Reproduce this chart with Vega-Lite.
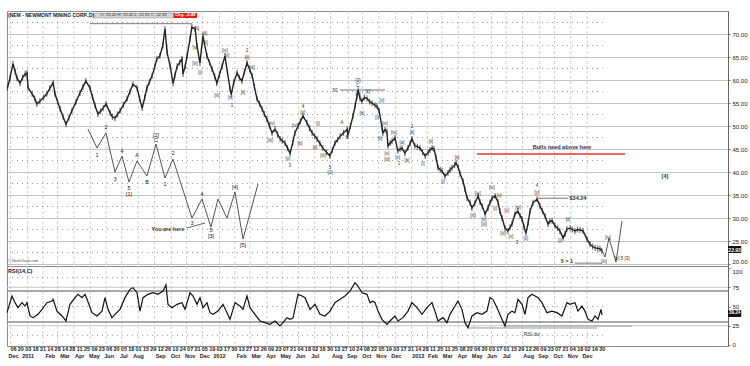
{
"$schema": "https://vega.github.io/schema/vega-lite/v6.json",
"padding": {"left": 4, "top": 10, "right": 0, "bottom": 0},
"background": "white",
"spacing": 0,
"bounds": "flush",
"config": {"view": {"stroke": "#8a8a8a", "strokeWidth": 1}, "font": "Liberation Sans"},
"datasets": {
"one": [{"k": 1}],
"months": [{"w":-0.71},{"w":4.0},{"w":8.14},{"w":12.14},{"w":16.57},{"w":21.0},{"w":25.29},{"w":29.57},{"w":34.0},{"w":38.43},{"w":43.0},{"w":47.14},{"w":51.43},{"w":56.14},{"w":60.29},{"w":64.43},{"w":69.0},{"w":73.14},{"w":77.57},{"w":82.0},{"w":86.29},{"w":91.14},{"w":95.0},{"w":99.43},{"w":104.0},{"w":108.29},{"w":112.57},{"w":116.57},{"w":121.0},{"w":125.29},{"w":130.0},{"w":134.0},{"w":138.43},{"w":143.14},{"w":147.14},{"w":151.57},{"w":156.0}],
"half": [{"p":22.5},{"p":27.5},{"p":32.5},{"p":37.5},{"p":42.5},{"p":47.5},{"p":52.5},{"p":57.5},{"p":62.5},{"p":67.5},{"p":72.5}],
"hlines": [{"w1":20.92,"w2":48.64,"p":72.24},{"w1":88.86,"w2":101.09,"p":57.83},{"w1":142.66,"w2":150.82,"p":34.3},{"w1":152.72,"w2":160.05,"p":20.2}],
"bulls": [{"w1":126.09,"w2":166.3,"p":43.91}],
"leader": [{"w1":47.28,"p1":27.83,"w2":52.17,"p2":28.91}],
"schem": [{"i":1,"w":20.38,"p":49.35},{"i":2,"w":22.83,"p":45.22},{"i":3,"w":25.27,"p":48.48},{"i":4,"w":27.72,"p":40.0},{"i":5,"w":29.62,"p":43.48},{"i":6,"w":31.52,"p":37.83},{"i":7,"w":33.7,"p":42.39},{"i":8,"w":36.41,"p":39.13},{"i":9,"w":38.86,"p":46.09},{"i":10,"w":41.3,"p":38.7},{"i":11,"w":43.48,"p":42.83},{"i":12,"w":48.64,"p":30.0},{"i":13,"w":51.36,"p":34.13},{"i":14,"w":53.8,"p":28.04},{"i":15,"w":55.71,"p":34.13},{"i":16,"w":58.15,"p":30.0},{"i":17,"w":60.33,"p":35.65},{"i":18,"w":62.5,"p":25.43},{"i":19,"w":66.58,"p":37.39}],
"proj": [{"i":1,"w":160.05,"p":23.0},{"i":2,"w":160.87,"p":21.52},{"i":3,"w":161.96,"p":25.65},{"i":4,"w":163.86,"p":20.43},{"i":5,"w":165.49,"p":29.35}],
"px": [{"w":-1.5,"c":58.3},{"w":-0.8,"c":60.5},{"w":0.0,"c":63.5},{"w":0.6,"c":61.8},{"w":1.1,"c":60.4},{"w":1.9,"c":59.3},{"w":2.6,"c":60.5},{"w":3.3,"c":61.3},{"w":3.8,"c":61.5},{"w":4.1,"c":58.3},{"w":5.2,"c":57.0},{"w":5.9,"c":56.0},{"w":6.5,"c":54.8},{"w":7.3,"c":55.4},{"w":8.3,"c":56.2},{"w":9.2,"c":57.0},{"w":10.0,"c":58.2},{"w":10.9,"c":59.4},{"w":11.4,"c":57.0},{"w":12.1,"c":55.3},{"w":12.8,"c":53.7},{"w":13.6,"c":52.0},{"w":14.4,"c":50.4},{"w":15.2,"c":51.8},{"w":16.0,"c":53.3},{"w":17.1,"c":55.2},{"w":18.2,"c":57.2},{"w":19.0,"c":58.5},{"w":19.8,"c":59.8},{"w":20.9,"c":58.3},{"w":21.6,"c":56.3},{"w":22.3,"c":54.4},{"w":23.1,"c":52.6},{"w":23.8,"c":53.2},{"w":24.5,"c":53.9},{"w":25.3,"c":54.8},{"w":26.4,"c":52.8},{"w":27.0,"c":52.0},{"w":27.7,"c":51.7},{"w":28.4,"c":52.5},{"w":29.1,"c":53.3},{"w":30.0,"c":54.6},{"w":31.0,"c":55.9},{"w":31.8,"c":57.5},{"w":32.6,"c":59.1},{"w":33.7,"c":58.3},{"w":34.4,"c":56.0},{"w":35.1,"c":53.9},{"w":35.8,"c":56.2},{"w":36.4,"c":58.3},{"w":37.1,"c":59.6},{"w":37.8,"c":60.9},{"w":38.5,"c":62.8},{"w":39.1,"c":64.6},{"w":39.9,"c":65.2},{"w":40.7,"c":67.5},{"w":41.3,"c":71.1},{"w":41.9,"c":65.9},{"w":42.7,"c":63.0},{"w":43.5,"c":59.3},{"w":44.0,"c":61.0},{"w":44.6,"c":63.0},{"w":45.3,"c":63.8},{"w":45.9,"c":64.6},{"w":46.2,"c":61.3},{"w":46.8,"c":63.0},{"w":47.3,"c":65.2},{"w":48.1,"c":68.9},{"w":48.6,"c":71.5},{"w":49.5,"c":71.1},{"w":50.0,"c":67.4},{"w":50.8,"c":63.7},{"w":51.6,"c":69.6},{"w":52.7,"c":65.2},{"w":53.4,"c":63.8},{"w":54.1,"c":62.4},{"w":54.8,"c":60.8},{"w":55.4,"c":59.3},{"w":56.1,"c":61.2},{"w":56.8,"c":63.0},{"w":57.6,"c":65.2},{"w":58.3,"c":61.5},{"w":59.0,"c":58.0},{"w":59.3,"c":56.8},{"w":60.0,"c":59.5},{"w":60.9,"c":61.5},{"w":61.5,"c":60.5},{"w":62.2,"c":59.8},{"w":62.9,"c":61.8},{"w":63.6,"c":63.7},{"w":64.3,"c":62.3},{"w":65.0,"c":60.9},{"w":65.6,"c":58.5},{"w":66.3,"c":55.9},{"w":67.0,"c":54.8},{"w":67.7,"c":53.7},{"w":68.3,"c":52.6},{"w":69.0,"c":51.5},{"w":69.7,"c":50.0},{"w":70.4,"c":48.5},{"w":71.2,"c":49.3},{"w":71.9,"c":48.2},{"w":72.6,"c":47.2},{"w":73.2,"c":46.8},{"w":73.9,"c":46.3},{"w":74.6,"c":45.2},{"w":75.3,"c":44.1},{"w":76.0,"c":46.3},{"w":76.6,"c":48.5},{"w":77.5,"c":50.0},{"w":78.1,"c":51.0},{"w":78.8,"c":52.2},{"w":79.9,"c":50.7},{"w":80.6,"c":49.5},{"w":81.3,"c":48.5},{"w":82.0,"c":47.8},{"w":82.6,"c":47.2},{"w":83.4,"c":46.2},{"w":84.2,"c":45.2},{"w":85.2,"c":44.3},{"w":86.1,"c":43.5},{"w":86.8,"c":44.8},{"w":87.5,"c":46.3},{"w":88.2,"c":47.0},{"w":88.9,"c":47.8},{"w":89.8,"c":48.5},{"w":90.8,"c":49.3},{"w":91.0,"c":48.0},{"w":91.7,"c":50.0},{"w":92.4,"c":52.2},{"w":93.0,"c":54.5},{"w":93.5,"c":56.5},{"w":93.8,"c":57.8},{"w":94.3,"c":56.0},{"w":94.8,"c":55.4},{"w":95.5,"c":56.2},{"w":96.2,"c":56.0},{"w":96.9,"c":55.3},{"w":97.6,"c":55.0},{"w":98.4,"c":54.5},{"w":98.9,"c":54.3},{"w":99.5,"c":53.3},{"w":100.3,"c":49.6},{"w":100.5,"c":48.5},{"w":101.1,"c":49.2},{"w":101.6,"c":48.8},{"w":101.9,"c":45.7},{"w":102.5,"c":46.3},{"w":103.0,"c":46.7},{"w":103.8,"c":47.4},{"w":104.6,"c":44.6},{"w":105.2,"c":45.0},{"w":105.7,"c":45.2},{"w":106.5,"c":44.1},{"w":107.3,"c":45.2},{"w":107.9,"c":46.2},{"w":108.4,"c":47.2},{"w":109.2,"c":45.7},{"w":109.9,"c":45.5},{"w":110.6,"c":45.2},{"w":111.3,"c":44.3},{"w":112.0,"c":43.5},{"w":112.8,"c":44.2},{"w":113.3,"c":44.8},{"w":113.9,"c":45.2},{"w":114.4,"c":45.0},{"w":115.0,"c":43.0},{"w":115.5,"c":40.9},{"w":116.1,"c":40.5},{"w":116.6,"c":40.2},{"w":117.4,"c":39.1},{"w":118.2,"c":39.8},{"w":118.8,"c":40.5},{"w":119.3,"c":40.9},{"w":120.0,"c":41.5},{"w":120.4,"c":42.0},{"w":121.0,"c":41.0},{"w":121.5,"c":39.6},{"w":122.3,"c":38.0},{"w":122.8,"c":36.3},{"w":123.4,"c":34.3},{"w":124.2,"c":33.3},{"w":124.7,"c":32.2},{"w":125.5,"c":33.2},{"w":126.4,"c":34.8},{"w":126.9,"c":33.5},{"w":127.5,"c":32.6},{"w":128.3,"c":30.9},{"w":129.1,"c":32.2},{"w":129.6,"c":33.3},{"w":130.2,"c":34.3},{"w":131.0,"c":34.8},{"w":131.8,"c":33.5},{"w":132.3,"c":31.5},{"w":132.9,"c":30.0},{"w":133.7,"c":27.8},{"w":134.5,"c":27.2},{"w":135.1,"c":28.0},{"w":135.6,"c":28.7},{"w":136.4,"c":30.9},{"w":137.2,"c":31.5},{"w":137.8,"c":30.5},{"w":138.3,"c":29.8},{"w":138.9,"c":28.0},{"w":139.4,"c":26.7},{"w":140.0,"c":29.0},{"w":140.5,"c":31.5},{"w":141.3,"c":33.3},{"w":142.4,"c":34.1},{"w":143.2,"c":32.6},{"w":143.9,"c":31.5},{"w":144.6,"c":30.4},{"w":145.4,"c":28.7},{"w":145.9,"c":29.3},{"w":146.5,"c":29.4},{"w":147.3,"c":28.3},{"w":148.0,"c":27.8},{"w":148.6,"c":27.2},{"w":149.5,"c":25.7},{"w":150.0,"c":26.5},{"w":150.5,"c":27.6},{"w":151.4,"c":27.8},{"w":152.0,"c":27.5},{"w":152.7,"c":27.2},{"w":153.4,"c":27.5},{"w":154.1,"c":27.4},{"w":154.9,"c":27.2},{"w":156.0,"c":25.4},{"w":156.8,"c":24.3},{"w":157.5,"c":23.8},{"w":158.2,"c":23.5},{"w":158.9,"c":23.4},{"w":159.5,"c":23.3},{"w":160.0,"c":22.9}],
"wl": [{"w":50.0,"p":71.09,"t":"[ii]"},{"w":52.17,"p":70.0,"t":"[ii]"},{"w":52.17,"p":68.04,"t":"[iii]"},{"w":49.46,"p":66.96,"t":"[v]"},{"w":49.46,"p":63.48,"t":"[iii]"},{"w":50.82,"p":61.52,"t":"[i]"},{"w":57.61,"p":66.3,"t":"[iv]"},{"w":58.15,"p":65.22,"t":"[v]"},{"w":55.43,"p":56.52,"t":"[iii]"},{"w":58.97,"p":56.09,"t":"[v]"},{"w":59.51,"p":54.35,"t":"1"},{"w":63.59,"p":66.3,"t":"2"},{"w":63.59,"p":64.78,"t":"[ii]"},{"w":64.95,"p":62.61,"t":"[iii]"},{"w":62.5,"p":57.17,"t":"[ii]"},{"w":70.38,"p":50.43,"t":"[iv]"},{"w":69.84,"p":46.74,"t":"[iii]"},{"w":74.73,"p":42.83,"t":"[v]"},{"w":75.27,"p":41.3,"t":"3"},{"w":78.8,"p":54.13,"t":"4"},{"w":78.8,"p":52.83,"t":"[v]"},{"w":76.63,"p":50.0,"t":"[iv]"},{"w":77.99,"p":46.09,"t":"[b]"},{"w":82.88,"p":50.43,"t":"[i]"},{"w":82.07,"p":45.22,"t":"[ii]"},{"w":84.24,"p":43.48,"t":"[iii]"},{"w":86.14,"p":40.87,"t":"5"},{"w":86.14,"p":39.78,"t":"[1]"},{"w":89.4,"p":50.65,"t":"A"},{"w":90.76,"p":47.39,"t":"B"},{"w":93.75,"p":59.78,"t":"[2]"},{"w":93.75,"p":58.7,"t":"C"},{"w":87.5,"p":57.61,"t":"50"},{"w":93.75,"p":56.96,"t":"[a]"},{"w":94.84,"p":52.61,"t":"[b]"},{"w":96.47,"p":57.39,"t":"[c]"},{"w":100.27,"p":55.43,"t":"[v]"},{"w":98.91,"p":51.74,"t":"[i]"},{"w":101.09,"p":50.43,"t":"[iv]"},{"w":99.73,"p":47.17,"t":"[ii]"},{"w":101.63,"p":43.91,"t":"[v]"},{"w":101.63,"p":42.61,"t":"[iii]"},{"w":103.53,"p":48.48,"t":"[iv]"},{"w":104.62,"p":43.04,"t":"[v]"},{"w":104.89,"p":41.74,"t":"1"},{"w":107.07,"p":42.39,"t":"[b]"},{"w":108.42,"p":49.78,"t":"2"},{"w":108.42,"p":48.48,"t":"[ii]"},{"w":105.71,"p":46.3,"t":"[a]"},{"w":111.41,"p":41.74,"t":"[i]"},{"w":113.59,"p":46.52,"t":"[ii]"},{"w":116.85,"p":37.83,"t":"[i]"},{"w":120.65,"p":43.04,"t":"[ii]"},{"w":126.36,"p":35.22,"t":"[iv]"},{"w":125.0,"p":30.43,"t":"[iii]"},{"w":127.99,"p":29.57,"t":"[v]"},{"w":127.99,"p":28.48,"t":"[iii]"},{"w":130.16,"p":36.52,"t":"[iv]"},{"w":132.07,"p":34.78,"t":"[v]"},{"w":130.98,"p":31.96,"t":"[i]"},{"w":133.15,"p":26.52,"t":"[iii]"},{"w":135.33,"p":25.87,"t":"[v]"},{"w":137.23,"p":32.17,"t":"[w]"},{"w":134.24,"p":31.52,"t":"[v]"},{"w":139.4,"p":25.43,"t":"[x]"},{"w":136.96,"p":24.57,"t":"3"},{"w":142.39,"p":35.43,"t":"[y]"},{"w":142.39,"p":36.96,"t":"4"},{"w":148.64,"p":25.0,"t":"[i]"},{"w":150.82,"p":29.57,"t":"[ii]"},{"w":161.68,"p":25.65,"t":"[iv]"},{"w":165.5,"p":21.09,"t":"[v] 5 [3]"},{"w":160.6,"p":20.43,"t":"[iii]"}],
"sl": [{"w":22.83,"p":43.7,"t":"1"},{"w":25.27,"p":49.78,"t":"2"},{"w":27.72,"p":38.48,"t":"3"},{"w":29.62,"p":44.57,"t":"4"},{"w":31.52,"p":36.52,"t":"5"},{"w":31.52,"p":35.22,"t":"[1]"},{"w":33.7,"p":43.7,"t":"A"},{"w":36.41,"p":37.83,"t":"B"},{"w":38.86,"p":48.04,"t":"[2]"},{"w":38.86,"p":46.96,"t":"C"},{"w":41.3,"p":37.39,"t":"1"},{"w":43.48,"p":44.13,"t":"2"},{"w":48.64,"p":28.91,"t":"3"},{"w":51.36,"p":35.22,"t":"4"},{"w":53.8,"p":27.39,"t":"5"},{"w":53.8,"p":26.09,"t":"[3]"},{"w":60.33,"p":36.74,"t":"[4]"},{"w":62.5,"p":24.13,"t":"[5]"}],
"bl": [{"w":42.12,"p":27.61,"t":"You are here"},{"w":149.18,"p":45.43,"t":"Bulls need above here"},{"w":153.53,"p":34.35,"t":"$34.24"},{"w":150.54,"p":20.65,"t":"5 = 1"},{"w":177.17,"p":39.13,"t":"[4]"}],
"rsi": [{"w":-1.63,"r":42},{"w":-0.27,"r":63.6},{"w":0.54,"r":55},{"w":1.36,"r":48.5},{"w":2.45,"r":55},{"w":3.26,"r":50.6},{"w":3.8,"r":55},{"w":4.62,"r":37.7},{"w":5.43,"r":35.5},{"w":6.79,"r":39.8},{"w":7.88,"r":46.3},{"w":9.24,"r":55},{"w":10.6,"r":57},{"w":10.87,"r":59.3},{"w":11.96,"r":44},{"w":13.32,"r":37.7},{"w":14.4,"r":31.2},{"w":15.49,"r":52.8},{"w":16.85,"r":61.5},{"w":17.66,"r":65.8},{"w":18.75,"r":61.5},{"w":19.57,"r":65.8},{"w":20.11,"r":59.3},{"w":21.47,"r":42},{"w":22.83,"r":37.7},{"w":24.18,"r":44},{"w":25.0,"r":61.5},{"w":25.82,"r":46.3},{"w":26.9,"r":35.5},{"w":27.72,"r":39.8},{"w":29.08,"r":46.3},{"w":30.43,"r":61.5},{"w":31.79,"r":72.3},{"w":32.61,"r":74.4},{"w":33.7,"r":67.9},{"w":34.51,"r":44},{"w":35.33,"r":61.5},{"w":36.68,"r":65.8},{"w":38.04,"r":67.9},{"w":39.4,"r":65.8},{"w":40.76,"r":70},{"w":41.58,"r":78},{"w":42.12,"r":52.8},{"w":43.21,"r":48.5},{"w":44.57,"r":52.8},{"w":45.92,"r":55},{"w":46.74,"r":46.3},{"w":48.1,"r":67.9},{"w":48.91,"r":63.6},{"w":50.0,"r":52.8},{"w":50.82,"r":61.5},{"w":51.63,"r":48.5},{"w":52.72,"r":55},{"w":53.53,"r":42},{"w":54.35,"r":39.8},{"w":55.71,"r":44},{"w":57.07,"r":52.8},{"w":58.15,"r":42},{"w":58.97,"r":33.3},{"w":60.33,"r":55},{"w":61.68,"r":50.6},{"w":62.5,"r":46.3},{"w":63.59,"r":63.6},{"w":64.4,"r":48.5},{"w":65.76,"r":39.8},{"w":67.12,"r":31.2},{"w":68.48,"r":29},{"w":69.84,"r":26.8},{"w":71.2,"r":31.2},{"w":72.55,"r":24.7},{"w":73.37,"r":29},{"w":74.46,"r":35.5},{"w":75.27,"r":33.3},{"w":76.09,"r":35},{"w":77.45,"r":65.8},{"w":78.53,"r":63.6},{"w":79.35,"r":61.5},{"w":80.71,"r":46.3},{"w":82.07,"r":52.8},{"w":83.42,"r":39.8},{"w":84.78,"r":37.7},{"w":86.14,"r":44},{"w":87.5,"r":55},{"w":88.86,"r":59.3},{"w":90.22,"r":63.6},{"w":91.58,"r":70},{"w":92.93,"r":80.9},{"w":93.75,"r":76.6},{"w":94.84,"r":67.9},{"w":96.2,"r":65.8},{"w":97.01,"r":55},{"w":97.83,"r":57},{"w":98.37,"r":55},{"w":99.18,"r":44},{"w":100.27,"r":33.3},{"w":101.63,"r":26.8},{"w":102.45,"r":31.2},{"w":103.8,"r":37.7},{"w":104.62,"r":31.2},{"w":105.98,"r":35.5},{"w":107.34,"r":44},{"w":108.42,"r":55},{"w":109.78,"r":48.5},{"w":111.14,"r":39.8},{"w":112.5,"r":48.5},{"w":113.86,"r":55},{"w":114.67,"r":44},{"w":115.49,"r":31.2},{"w":116.85,"r":35.5},{"w":117.93,"r":29},{"w":118.75,"r":39.8},{"w":120.11,"r":50.6},{"w":120.92,"r":57},{"w":122.01,"r":46.3},{"w":122.83,"r":29},{"w":123.64,"r":22.5},{"w":124.73,"r":37.7},{"w":126.09,"r":42},{"w":127.45,"r":39.8},{"w":128.8,"r":44},{"w":129.62,"r":61.5},{"w":130.43,"r":59.3},{"w":131.52,"r":48.5},{"w":132.88,"r":33.3},{"w":133.7,"r":24.7},{"w":134.51,"r":39.8},{"w":135.6,"r":44},{"w":136.41,"r":42},{"w":137.23,"r":59.3},{"w":138.32,"r":52.8},{"w":139.13,"r":39.8},{"w":139.95,"r":61.5},{"w":141.03,"r":65.8},{"w":141.85,"r":63.6},{"w":142.66,"r":61.5},{"w":143.75,"r":55},{"w":145.11,"r":42},{"w":146.47,"r":44},{"w":147.83,"r":42},{"w":149.18,"r":37.7},{"w":150.54,"r":55},{"w":151.36,"r":52.8},{"w":152.72,"r":55},{"w":153.53,"r":44},{"w":154.62,"r":50.6},{"w":155.43,"r":44},{"w":156.25,"r":33.3},{"w":157.34,"r":31.2},{"w":158.15,"r":37.7},{"w":158.97,"r":33.3},{"w":159.78,"r":46.3},{"w":160.05,"r":39.2}],
"rlight": [{"r":75},{"r":25}],
"rdark": [{"r":70},{"r":30}],
"rdot": [{"r":12.5},{"r":50},{"r":87.5}],
"rdiv": [{"w1":123.37,"w2":158.7,"r":22.1},{"w1":133.15,"w2":168.21,"r":24.7}]
},
"vconcat": [
{
"width": 721, "height": 255,
"data": {"name": "one"},
"resolve": {"axis": {"x": "independent", "y": "independent"}},
"layer": [
{"data": {"name": "months"}, "mark": {"type": "rule", "color": "#d0d0d0", "strokeDash": [3, 2], "strokeWidth": 1},
 "encoding": {"x": {"field": "w", "type": "quantitative", "scale": {"domain": [-1.63, 194.3], "nice": false, "zero": false}, "axis": null}}},
{"data": {"name": "half"}, "mark": {"type": "rule", "color": "#9a9a9a", "strokeDash": [1, 4], "strokeWidth": 1},
 "encoding": {"x": {"datum": -1.63, "axis": null}, "x2": {"datum": 160.3},
  "y": {"field": "p", "type": "quantitative", "scale": {"domain": [19.57, 75], "nice": false, "zero": false},
   "axis": {"orient": "right", "values": [20, 25, 30, 35, 40, 45, 50, 55, 60, 65, 70], "format": ".2f", "title": null, "labelFontSize": 6, "labelFont": "Liberation Sans", "labelColor": "#222", "tickSize": 2, "tickColor": "#777", "domainColor": "#666", "grid": true, "gridColor": "#c4c4c4", "gridWidth": 1.2, "labelPadding": 2,
    "labelBaseline": {"condition": {"test": "datum.value == 20", "value": "bottom"}, "value": "middle"}}}}},
{"data": {"name": "hlines"}, "mark": {"type": "rule", "color": "#7a7a7a", "strokeWidth": 1},
 "encoding": {"x": {"field": "w1", "type": "quantitative", "axis": null}, "x2": {"field": "w2"}, "y": {"field": "p", "type": "quantitative", "axis": null}}},
{"data": {"name": "bulls"}, "mark": {"type": "rule", "color": "#e8322e", "strokeWidth": 1.5},
 "encoding": {"x": {"field": "w1", "type": "quantitative", "axis": null}, "x2": {"field": "w2"}, "y": {"field": "p", "type": "quantitative", "axis": null}}},
{"data": {"name": "leader"}, "mark": {"type": "rule", "color": "#666", "strokeWidth": 1},
 "encoding": {"x": {"field": "w1", "type": "quantitative", "axis": null}, "x2": {"field": "w2"}, "y": {"field": "p1", "type": "quantitative", "axis": null}, "y2": {"field": "p2"}}},
{"data": {"name": "schem"}, "mark": {"type": "line", "color": "#555", "strokeWidth": 1},
 "encoding": {"x": {"field": "w", "type": "quantitative", "axis": null}, "y": {"field": "p", "type": "quantitative", "axis": null}, "order": {"field": "i", "type": "quantitative"}}},
{"data": {"name": "proj"}, "mark": {"type": "line", "color": "#555", "strokeWidth": 1},
 "encoding": {"x": {"field": "w", "type": "quantitative", "axis": null}, "y": {"field": "p", "type": "quantitative", "axis": null}, "order": {"field": "i", "type": "quantitative"}}},
{"data": {"name": "px"}, "mark": {"type": "tick", "orient": "vertical", "size": 6, "thickness": 1.2, "color": "#333"},
 "encoding": {"x": {"field": "w", "type": "quantitative", "axis": null}, "y": {"field": "c", "type": "quantitative", "axis": null}}},
{"data": {"name": "px"}, "mark": {"type": "line", "color": "#222", "strokeWidth": 1.4},
 "encoding": {"x": {"field": "w", "type": "quantitative", "axis": null}, "y": {"field": "c", "type": "quantitative", "axis": null}}},
{"data": {"name": "wl"}, "mark": {"type": "text", "fontSize": 4.5, "color": "#333", "font": "Liberation Sans"},
 "encoding": {"x": {"field": "w", "type": "quantitative", "axis": null}, "y": {"field": "p", "type": "quantitative", "axis": null}, "text": {"field": "t", "type": "nominal"}}},
{"data": {"name": "sl"}, "mark": {"type": "text", "fontSize": 5.5, "color": "#222", "font": "Liberation Sans"},
 "encoding": {"x": {"field": "w", "type": "quantitative", "axis": null}, "y": {"field": "p", "type": "quantitative", "axis": null}, "text": {"field": "t", "type": "nominal"}}},
{"data": {"name": "bl"}, "mark": {"type": "text", "fontSize": 5.5, "fontWeight": "bold", "color": "#333", "font": "Liberation Sans"},
 "encoding": {"x": {"field": "w", "type": "quantitative", "axis": null}, "y": {"field": "p", "type": "quantitative", "axis": null}, "text": {"field": "t", "type": "nominal"}}},
{"mark": {"type": "rect", "fill": "#d4d4d4", "stroke": "#999", "strokeWidth": 0.5},
 "encoding": {"x": {"datum": 22.0, "axis": null}, "x2": {"datum": 43.5}, "y": {"datum": 74.57, "axis": null}, "y2": {"datum": 73.48}}},
{"mark": {"type": "rect", "fill": "#e8201a"},
 "encoding": {"x": {"datum": 43.6, "axis": null}, "x2": {"datum": 50.0}, "y": {"datum": 74.57, "axis": null}, "y2": {"datum": 73.48}}},
{"mark": {"type": "text", "fontSize": 5, "fontWeight": "bold", "align": "left", "color": "#222", "text": "(NEM - NEWMONT MINING CORP.,D)"},
 "encoding": {"x": {"datum": -1.36, "axis": null}, "y": {"datum": 74.05, "axis": null}}},
{"mark": {"type": "text", "fontSize": 4.2, "color": "#333", "text": "O: 23.42    H: 23.42    L: 22.91    C: 22.93"},
 "encoding": {"x": {"datum": 32.75, "axis": null}, "y": {"datum": 74.03, "axis": null}}},
{"mark": {"type": "text", "fontSize": 4.2, "fontWeight": "bold", "color": "white", "text": "Chg: -0.49"},
 "encoding": {"x": {"datum": 46.8, "axis": null}, "y": {"datum": 74.03, "axis": null}}},
{"mark": {"type": "text", "fontSize": 3.5, "align": "left", "color": "#444", "text": "© StockCharts.com"},
 "encoding": {"x": {"datum": -1.36, "axis": null}, "y": {"datum": 20.65, "axis": null}}},
{"mark": {"type": "rect", "fill": "#111"},
 "encoding": {"x": {"datum": 194.3, "axis": null}, "x2": {"datum": 197.9}, "y": {"datum": 23.91, "axis": null}, "y2": {"datum": 22.39}}},
{"mark": {"type": "text", "fontSize": 5, "fontWeight": "bold", "color": "white", "text": "22.93"},
 "encoding": {"x": {"datum": 196.1, "axis": null}, "y": {"datum": 23.15, "axis": null}}}
]
},
{
"width": 721, "height": 80,
"data": {"name": "one"},
"resolve": {"axis": {"x": "independent", "y": "independent"}},
"layer": [
{"data": {"name": "months"}, "mark": {"type": "rule", "color": "#d0d0d0", "strokeDash": [3, 2], "strokeWidth": 1},
 "encoding": {"x": {"field": "w", "type": "quantitative", "scale": {"domain": [-1.63, 194.3], "nice": false, "zero": false}, "axis": null}}},
{"data": {"name": "rlight"}, "mark": {"type": "rule", "color": "#c4c4c4", "strokeWidth": 1},
 "encoding": {"y": {"field": "r", "type": "quantitative", "scale": {"domain": [-1.3, 102.6], "nice": false, "zero": false}, "axis": null}}},
{"data": {"name": "rdark"}, "mark": {"type": "rule", "color": "#8c8c8c", "strokeWidth": 1.5},
 "encoding": {"y": {"field": "r", "type": "quantitative", "axis": null}}},
{"data": {"name": "rdot"}, "mark": {"type": "rule", "color": "#9a9a9a", "strokeDash": [1, 4], "strokeWidth": 1},
 "encoding": {"x": {"datum": -1.63, "axis": null}, "x2": {"datum": 160.3}, "y": {"field": "r", "type": "quantitative", "axis": null}}},
{"data": {"name": "rdiv"}, "mark": {"type": "rule", "color": "#999", "strokeWidth": 1},
 "encoding": {"x": {"field": "w1", "type": "quantitative", "axis": null}, "x2": {"field": "w2"}, "y": {"field": "r", "type": "quantitative", "axis": null}}},
{"data": {"name": "rsi"}, "mark": {"type": "line", "color": "#111", "strokeWidth": 1.2},
 "encoding": {
  "x": {"field": "w", "type": "quantitative",
   "axis": {"orient": "bottom", "title": null, "values": [0,2,4,6,8,10,12,14,16,18,20,22,24,26,28,30,32,34,36,38,40,42,44,46,48,50,52,54,56,58,60,62,64,66,68,70,72,74,76,78,80,82,84,86,88,90,92,94,96,98,100,102,104,106,108,110,112,114,116,118,120,122,124,126,128,130,132,134,136,138,140,142,144,146,148,150,152,154,156,158,160],
    "labelExpr": "[split('06,20,03,18,31,14,28,14,28,11,25,09,23,06,20,05,18,01,15,29,12,26,10,24,07,21,05,19,03,17,30,13,27,12,26,09,23,07,21,04,18,02,16,30,13,27,10,24,08,22,05,19,03,17,31,14,28,11,25,11,25,08,22,06,20,03,17,01,15,29,12,26,09,23,07,21,04,18,02,16,30', ',')[round(datum.value/2)], split('Dec,,2011,,,Feb,,Mar,,Apr,,May,,Jun,,Jul,,Aug,,,Sep,,Oct,,Nov,,Dec,,2012,,,Feb,,Mar,,Apr,,May,,Jun,,Jul,,,Aug,,Sep,,Oct,,Nov,,Dec,,,2013,,Feb,,Mar,,Apr,,May,,Jun,,Jul,,,Aug,,Sep,,Oct,,Nov,,Dec,,', ',')[round(datum.value/2)]]",
    "labelFontSize": 5.5, "labelFontWeight": "bold", "labelFont": "Liberation Sans", "labelColor": "#222", "labelOverlap": false, "labelFlush": false, "labelLineHeight": 7, "labelPadding": 0, "tickSize": 0, "domain": false, "grid": false}},
  "y": {"field": "r", "type": "quantitative",
   "axis": {"orient": "right", "values": [0, 25, 50, 75, 100], "title": null, "labelFontSize": 6, "labelFont": "Liberation Sans", "labelColor": "#222", "tickSize": 2, "tickColor": "#777", "domainColor": "#666", "grid": false, "labelPadding": 2,
    "labelBaseline": {"condition": {"test": "datum.value == 100", "value": "top"}, "value": "middle"}}}}},
{"mark": {"type": "text", "fontSize": 5.5, "fontWeight": "bold", "align": "left", "color": "#222", "text": "RSI(14,C)"},
 "encoding": {"x": {"datum": -1.36, "axis": null}, "y": {"datum": 96.5, "axis": null}}},
{"mark": {"type": "text", "fontSize": 5, "color": "#333", "text": "RSI div"},
 "encoding": {"x": {"datum": 141.0, "axis": null}, "y": {"datum": 13.9, "axis": null}}},
{"mark": {"type": "rect", "fill": "#111"},
 "encoding": {"x": {"datum": 194.3, "axis": null}, "x2": {"datum": 197.9}, "y": {"datum": 45.5, "axis": null}, "y2": {"datum": 36.4}}},
{"mark": {"type": "text", "fontSize": 4.5, "fontWeight": "bold", "color": "white", "text": "39.24"},
 "encoding": {"x": {"datum": 196.1, "axis": null}, "y": {"datum": 41, "axis": null}}}
]
}
]
}
